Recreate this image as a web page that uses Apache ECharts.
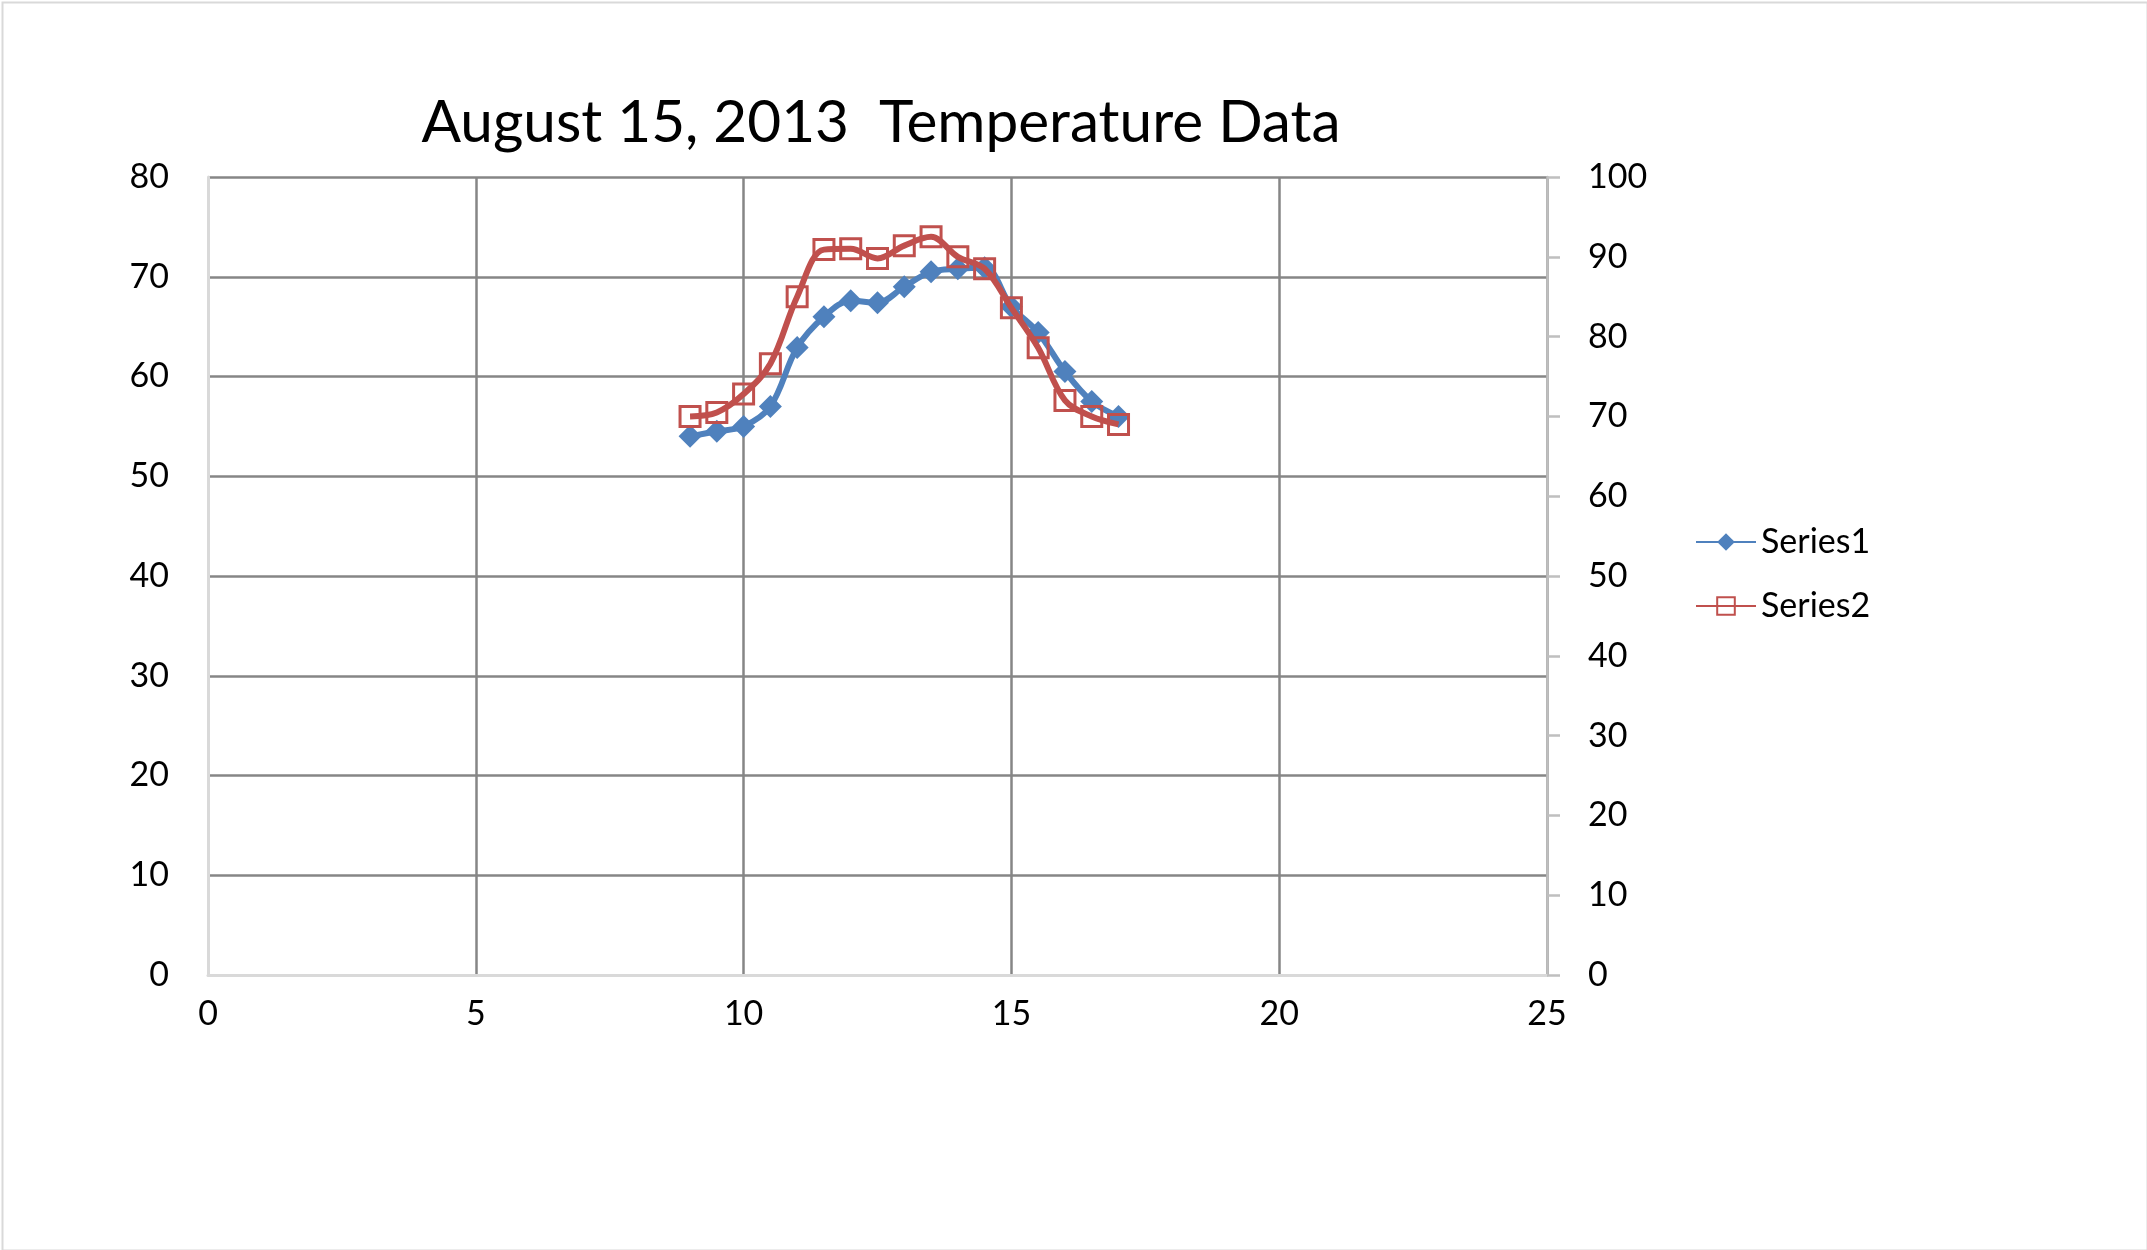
<!DOCTYPE html>
<html><head><meta charset="utf-8">
<script src="https://cdn.jsdelivr.net/npm/echarts@6/dist/echarts.min.js"></script>
<style>html,body{margin:0;padding:0;background:#fff}#c{width:2147px;height:1250px}</style>
</head><body><div id="c"></div>
<script>
const chartTitle = 'August 15, 2013  Temperature Data';
const seriesNames = ['Series1', 'Series2'];
// time of day, hours
const hours = [9.0, 9.5, 10.0, 10.5, 11.0, 11.5, 12.0, 12.5, 13.0, 13.5, 14.0, 14.5, 15.0, 15.5, 16.0, 16.5, 17.0];
// primary (left) axis series
const series1 = [54.0, 54.5, 55.0, 57.0, 62.9, 66.0, 67.6, 67.4, 69.0, 70.5, 70.8, 70.9, 67.0, 64.4, 60.5, 57.5, 56.0];
// secondary (right) axis series
const series2 = [70.0, 70.5, 72.8, 76.6, 85.0, 90.9, 91.0, 89.8, 91.4, 92.5, 90.0, 88.5, 83.6, 78.6, 72.0, 70.0, 69.0];
const xTicks = [0, 5, 10, 15, 20, 25];
const leftTicks = [0, 10, 20, 30, 40, 50, 60, 70, 80];
const rightTicks = [0, 10, 20, 30, 40, 50, 60, 70, 80, 90, 100];

const BLUE = '#4F81BD', RED = '#C0504D';
const FONT = 'Lato';
const chart = echarts.init(document.getElementById('c'), null, {renderer: 'canvas'});
const grid = {left: 208, right: 2147 - 1547, top: 177, bottom: 1250 - 975};
const dataA = hours.map((h, i) => [h, series1[i]]);
const dataB = hours.map((h, i) => [h, series2[i]]);
chart.setOption({
  backgroundColor: '#fff',
  animation: false,
  graphic: [
    {type: 'rect', left: 0, top: 0, shape: {x: 1, y: 1, width: 2145, height: 1248},
     style: {fill: 'none', stroke: '#d9d9d9', lineWidth: 2}, silent: true},
    {type: 'text', x: 881, y: 123, style: {text: chartTitle, fontFamily: FONT, fontSize: 58.5,
      fill: '#000', textAlign: 'center', textVerticalAlign: 'middle'}}
  ],
  grid: grid,
  legend: {
    orient: 'vertical', left: 1690, top: 520, itemGap: 30, itemWidth: 60, itemHeight: 22,
    textStyle: {fontFamily: FONT, fontSize: 34, color: '#000'},
    data: seriesNames
  },
  xAxis: {
    type: 'value', min: xTicks[0], max: xTicks[xTicks.length - 1], interval: xTicks[1] - xTicks[0],
    axisLine: {show: true, onZero: false, lineStyle: {color: '#d9d9d9', width: 3}},
    axisTick: {show: false},
    axisLabel: {fontFamily: FONT, fontSize: 34, color: '#000', margin: 22},
    splitLine: {show: true, lineStyle: {color: '#868686', width: 2.5}}
  },
  yAxis: [
    {type: 'value', min: leftTicks[0], max: leftTicks[leftTicks.length - 1], interval: leftTicks[1] - leftTicks[0],
     position: 'left',
     axisLine: {show: true, lineStyle: {color: '#d9d9d9', width: 3}},
     axisTick: {show: false},
     axisLabel: {fontFamily: FONT, fontSize: 34, color: '#000', margin: 39},
     splitLine: {show: true, lineStyle: {color: '#868686', width: 2.5}}},
    {type: 'value', min: rightTicks[0], max: rightTicks[rightTicks.length - 1], interval: rightTicks[1] - rightTicks[0],
     position: 'right',
     axisLine: {show: true, lineStyle: {color: '#bfbfbf', width: 2.5}},
     axisTick: {show: true, inside: false, length: 13, lineStyle: {color: '#bfbfbf', width: 2.5}},
     axisLabel: {fontFamily: FONT, fontSize: 34, color: '#000', margin: 41},
     splitLine: {show: false}}
  ],
  series: [
    {name: seriesNames[0], type: 'line', yAxisIndex: 0, data: dataA, smooth: 0.35,
     symbol: 'diamond', symbolSize: 23, showAllSymbol: true,
     lineStyle: {color: BLUE, width: 6},
     itemStyle: {color: BLUE, borderWidth: 0}, z: 2},
    {name: seriesNames[1], type: 'line', yAxisIndex: 1, data: dataB, smooth: 0.35,
     symbol: 'rect', symbolSize: 20, showAllSymbol: true,
     lineStyle: {color: RED, width: 6},
     itemStyle: {color: 'rgba(0,0,0,0)', borderColor: RED, borderWidth: 3}, z: 3}
  ]
});
</script></body></html>
